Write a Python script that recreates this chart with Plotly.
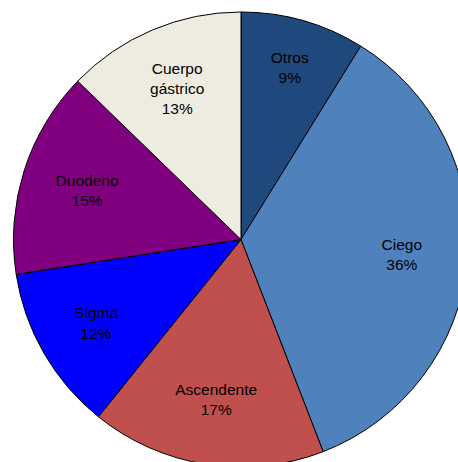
import plotly.graph_objects as go

labels = ["Otros", "Ciego", "Ascendente", "Sigma", "Duodeno", "Cuerpo<br>gástrico"]
values = [9, 36, 17, 12, 15, 13]
colors = ["#1F497D", "#4F81BD", "#C0504D", "#0000FF", "#800080", "#EEECE1"]

W, H = 482, 480
cx, cy, r = 241, 239.5, 227.5
dom = dict(x=[(cx - r) / W, (cx + r) / W], y=[(H - cy - r) / H, (H - cy + r) / H])

common = dict(labels=labels, values=values, sort=False, direction="clockwise",
              rotation=0, domain=dom, showlegend=False)

fig = go.Figure()
# visible slices
fig.add_trace(go.Pie(
    marker=dict(colors=colors, line=dict(color="black", width=1)),
    textinfo="none",
    hoverinfo="label+value",
    **common,
))
# transparent overlay carrying the labels (places them ~0.7 r along each bisector)
fig.add_trace(go.Pie(
    marker=dict(colors=["rgba(0,0,0,0)"] * len(values), line=dict(width=0)),
    hole=0.42,
    texttemplate="%{label}<br>%{value}%",
    textposition="inside",
    insidetextorientation="horizontal",
    textfont=dict(family="Liberation Sans, Arial, sans-serif", size=15.5, color="black"),
    hoverinfo="skip",
    **common,
))
fig.update_layout(
    width=W, height=H,
    margin=dict(l=0, r=0, t=0, b=0),
    paper_bgcolor="white",
    plot_bgcolor="white",
    uniformtext=dict(minsize=15, mode="show"),
)
fig.write_html("out.html", config={"displayModeBar": False},
               post_script="document.body.style.margin='0';document.body.style.overflow='hidden';")
